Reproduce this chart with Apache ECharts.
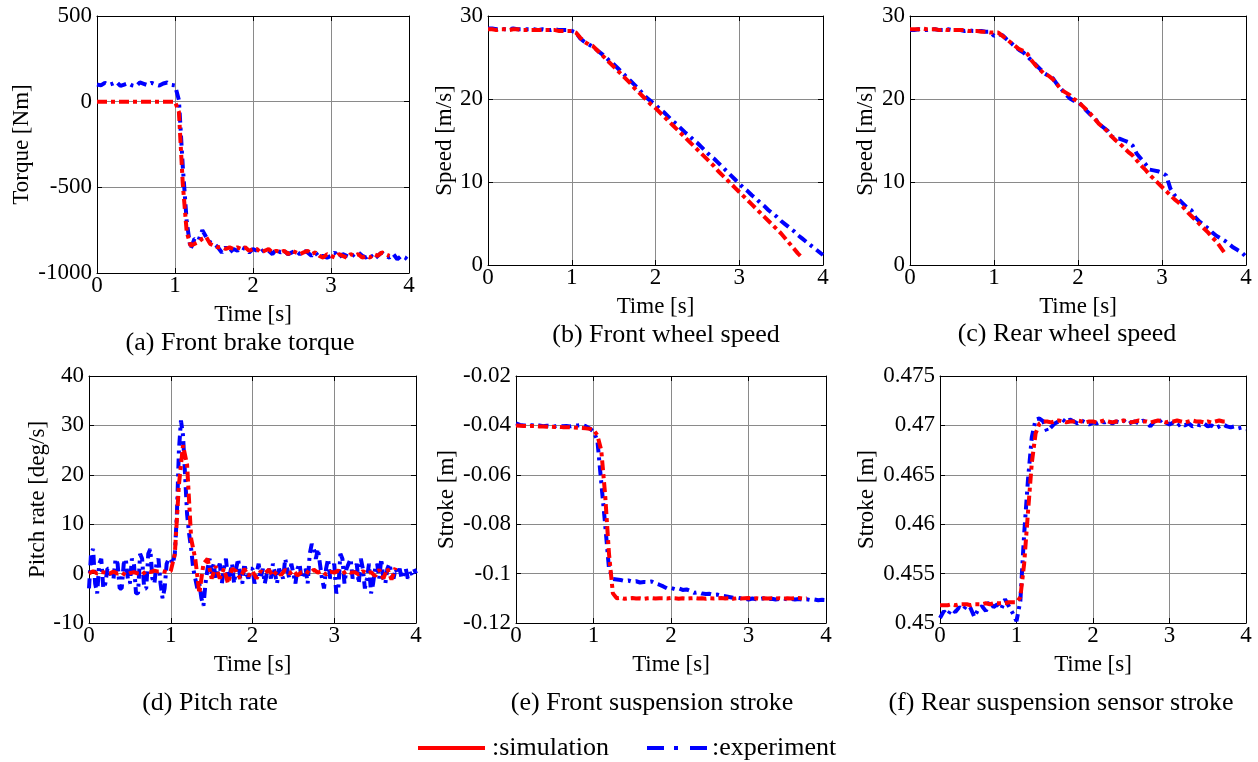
<!DOCTYPE html>
<html>
<head>
<meta charset="utf-8">
<script src="https://cdn.jsdelivr.net/npm/echarts@6/dist/echarts.min.js"></script>
<style>
html,body{margin:0;padding:0;background:#fff;}
#chart{width:1258px;height:762px;}
</style>
</head>
<body>
<div id="chart"></div>
<script>
// ---- data ----
const time = [
0,0.05,0.1,0.15,0.2,0.25,0.3,0.35,0.4,0.45,
0.5,0.55,0.6,0.65,0.7,0.75,0.8,0.85,0.9,0.95,
1,1.05,1.1,1.15,1.2,1.25,1.3,1.35,1.4,1.45,
1.5,1.55,1.6,1.65,1.7,1.75,1.8,1.85,1.9,1.95,
2,2.05,2.1,2.15,2.2,2.25,2.3,2.35,2.4,2.45,
2.5,2.55,2.6,2.65,2.7,2.75,2.8,2.85,2.9,2.95,
3,3.05,3.1,3.15,3.2,3.25,3.3,3.35,3.4,3.45,
3.5,3.55,3.6,3.65,3.7,3.75,3.8,3.85,3.9,3.95,
4];
const timeFine = [
0,0.025,0.05,0.075,0.1,0.125,0.15,0.175,0.2,0.225,0.25,0.275,0.3,0.325,0.35,0.375,0.4,0.425,0.45,0.475,
0.5,0.525,0.55,0.575,0.6,0.625,0.65,0.675,0.7,0.725,0.75,0.775,0.8,0.825,0.85,0.875,0.9,0.925,0.95,0.975,
1,1.025,1.05,1.075,1.1,1.125,1.15,1.175,1.2,1.225,1.25,1.275,1.3,1.325,1.35,1.375,1.4,1.425,1.45,1.475,
1.5,1.525,1.55,1.575,1.6,1.625,1.65,1.675,1.7,1.725,1.75,1.775,1.8,1.825,1.85,1.875,1.9,1.925,1.95,1.975,
2,2.025,2.05,2.075,2.1,2.125,2.15,2.175,2.2,2.225,2.25,2.275,2.3,2.325,2.35,2.375,2.4,2.425,2.45,2.475,
2.5,2.525,2.55,2.575,2.6,2.625,2.65,2.675,2.7,2.725,2.75,2.775,2.8,2.825,2.85,2.875,2.9,2.925,2.95,2.975,
3,3.025,3.05,3.075,3.1,3.125,3.15,3.175,3.2,3.225,3.25,3.275,3.3,3.325,3.35,3.375,3.4,3.425,3.45,3.475,
3.5,3.525,3.55,3.575,3.6,3.625,3.65,3.675,3.7,3.725,3.75,3.775,3.8,3.825,3.85,3.875,3.9,3.925,3.95,3.975,
4];

const torqueExp = [
100,95,110,98,105,115,92,100,108,95,
90,112,104,96,110,100,94,106,112,98,
95,10,-380,-700,-860,-800,-810,-750,-790,-820,
-830,-850,-880,-850,-880,-860,-870,-850,-860,-880,
-860,-870,-880,-860,-870,-890,-860,-880,-870,-890,
-880,-870,-890,-870,-880,-900,-880,-910,-900,-910,
-900,-880,-910,-890,-900,-910,-890,-880,-900,-910,
-890,-920,-900,-880,-900,-910,-890,-920,-900,-910,
-930];
const torqueSim = [
0,0,0,0,0,0,0,0,0,0,
0,0,0,0,0,0,0,0,0,0,
0,-60,-480,-760,-840,-830,-820,-800,-790,-830,
-840,-850,-850,-860,-850,-860,-850,-860,-850,-870,
-860,-860,-880,-870,-860,-880,-870,-880,-870,-890,
-870,-880,-890,-880,-870,-890,-880,-900,-910,-890,
-900,-910,-890,-900,-910,-890,-900,-890,-910,-900,
-910,-890,-900,-880,-890,-900];

const frontSpeedExp = [
28.5,28.5,28.4,28.5,28.4,28.4,28.5,28.4,28.4,28.4,
28.4,28.4,28.3,28.4,28.3,28.3,28.4,28.3,28.3,28.3,
28.2,28.0,27.3,26.9,26.6,26.3,25.9,25.5,25.1,24.6,
24.2,23.7,23.2,22.7,22.2,21.7,21.2,20.6,20.1,19.7,
19.3,18.8,18.4,17.9,17.4,17.0,16.5,16.0,15.6,15.1,
14.7,14.2,13.7,13.2,12.8,12.3,11.8,11.3,10.8,10.3,
9.8,9.3,8.9,8.4,8.0,7.5,7.1,6.6,6.2,5.8,
5.3,4.9,4.5,4.1,3.6,3.2,2.8,2.4,2.0,1.6,
1.2];
const frontSpeedSim = [
28.4,28.4,28.3,28.4,28.4,28.3,28.4,28.4,28.3,28.3,
28.3,28.3,28.3,28.3,28.3,28.3,28.3,28.2,28.2,28.2,
28.2,28.0,27.4,26.9,26.6,26.4,25.9,25.4,24.9,24.4,
23.9,23.4,22.9,22.4,21.9,21.3,20.8,20.3,19.8,19.3,
18.9,18.4,17.9,17.4,16.9,16.4,15.9,15.4,14.9,14.4,
13.9,13.4,12.9,12.4,11.9,11.3,10.8,10.3,9.8,9.3,
8.8,8.3,7.8,7.3,6.8,6.3,5.8,5.3,4.8,4.3,
3.8,3.2,2.6,2.0,1.4,0.9];

const rearSpeedExp = [
28.3,28.3,28.4,28.3,28.3,28.4,28.4,28.3,28.3,28.4,
28.3,28.3,28.3,28.2,28.3,28.2,28.2,28.2,28.1,28.1,
27.6,27.8,27.7,27.2,26.8,26.3,25.9,25.6,25.1,24.6,
24.1,23.6,23.1,22.8,22.5,21.8,21.2,20.6,20.1,19.8,
19.6,19.2,18.6,18.1,17.7,17.0,16.6,16.2,15.5,15.2,
15.2,15.0,14.8,14.4,13.4,12.8,12.2,11.5,11.4,11.3,
11.1,10.8,9.2,8.4,7.9,7.4,6.9,6.6,5.7,5.2,
4.8,4.4,3.9,3.5,3.2,2.9,2.5,2.1,1.8,1.5,
1.0];
const rearSpeedSim = [
28.4,28.4,28.4,28.5,28.4,28.4,28.4,28.3,28.4,28.3,
28.3,28.3,28.3,28.3,28.2,28.2,28.2,28.1,28.1,28.0,
28.0,28.0,27.6,27.2,26.8,26.4,26.0,25.8,25.4,24.6,
24.0,23.5,23.0,22.8,22.4,21.8,21.1,20.8,20.5,20.0,
19.7,19.2,18.7,18.2,17.6,17.0,16.6,16.1,15.5,15.0,
14.6,14.1,13.6,13.2,12.6,12.0,11.5,10.9,10.4,9.9,
9.4,8.9,8.4,7.9,7.5,7.0,6.4,5.9,5.4,4.9,
4.4,3.9,3.3,2.8,2.1,1.4];

// pitch rate experiment sampled on timeFine
const pitchExp = [
-3,4,5,-2,-4,2,3,-3,-2,1,1,-1,-1,3,2,-3,-3,2,3,-1,
-2,3,2,-4,-4,4,3,-3,-3,4,5,-1,-2,2,3,-2,-5,-3,2,3,
3,2,4,12,25,31,28,20,12,8,5,1,-1,-3,-2,-5,-6.5,-2,1,3,
0,2,-1,1,2,-2,1,3,-1,0,2,-2,1,3,-1,-2,2,0,-1,1,
1,-2,0,2,-1,1,-2,0,1,-1,2,0,-2,1,0,-1,3,1,-1,2,
0,-2,1,2,-1,0,1,-2,4,6,5,3,5,2,-1,-3,1,3,-1,0,
2,-4,-3,4,3,-2,1,2,3,-1,0,2,-2,3,1,-3,-1,2,-4,-2,
1,2,-1,3,-1,-2,1,2,0,-1,1,0,1,-1,0,1,-1,0,0,1,
0];
const pitchSim = [
0,0.5,0,0.3,0.2,0,0.4,0,0.2,-0.3,
0.1,0.3,0,-0.2,0.5,0.3,0.6,0.4,0.5,0.3,
0.5,4,18,26,22,7,3,-4,2,3,
-1,1.5,-1,1,-2,1,0.5,-1,1,-0.5,
0.5,-1,0.5,0,0.8,-0.5,0.5,-0.3,0.8,0,
0.6,-0.4,0.3,0.5,0,0.8,0.2,0.5,-0.2,0.4,
0.2,0.6,0,0.5,0.2,0.3,-0.2,0.5,0,0.3,
-0.5,0.8,-1,1,-1.2,1.2];

const frontStrokeExp = [
-0.0392,-0.0398,-0.0400,-0.0401,-0.0399,-0.0402,-0.0400,-0.0403,-0.0401,-0.0402,
-0.0404,-0.0401,-0.0403,-0.0402,-0.0404,-0.0401,-0.0400,-0.0398,-0.0403,-0.0412,
-0.0425,-0.0460,-0.0630,-0.0800,-0.0980,-0.1022,-0.1024,-0.1026,-0.1030,-0.1028,
-0.1033,-0.1031,-0.1036,-0.1034,-0.1035,-0.1032,-0.1040,-0.1045,-0.1052,-0.1060,
-0.1058,-0.1063,-0.1060,-0.1066,-0.1064,-0.1070,-0.1078,-0.1075,-0.1081,-0.1083,
-0.1082,-0.1086,-0.1085,-0.1089,-0.1092,-0.1095,-0.1098,-0.1097,-0.1100,-0.1102,
-0.1105,-0.1101,-0.1104,-0.1103,-0.1100,-0.1104,-0.1102,-0.1105,-0.1103,-0.1101,
-0.1104,-0.1102,-0.1105,-0.1103,-0.1106,-0.1104,-0.1107,-0.1105,-0.1108,-0.1106,
-0.1107];
const frontStrokeSim = [
-0.0400,-0.0401,-0.0402,-0.0403,-0.0402,-0.0403,-0.0404,-0.0404,-0.0405,-0.0405,
-0.0406,-0.0406,-0.0407,-0.0407,-0.0408,-0.0409,-0.0410,-0.0411,-0.0412,-0.0414,
-0.0418,-0.0440,-0.0500,-0.0680,-0.0920,-0.1080,-0.1100,-0.1098,-0.1102,-0.1100,
-0.1099,-0.1101,-0.1100,-0.1102,-0.1100,-0.1099,-0.1101,-0.1100,-0.1100,-0.1101,
-0.1099,-0.1100,-0.1102,-0.1100,-0.1101,-0.1100,-0.1099,-0.1101,-0.1100,-0.1102,
-0.1100,-0.1101,-0.1100,-0.1099,-0.1101,-0.1100,-0.1102,-0.1100,-0.1101,-0.1100,
-0.1099,-0.1101,-0.1100,-0.1102,-0.1100,-0.1101,-0.1100,-0.1101,-0.1100,-0.1102,
-0.1100,-0.1101,-0.1100,-0.1099,-0.1101,-0.1100];

const rearStrokeExp = [
0.4505,0.4512,0.4508,0.4514,0.4511,0.4516,0.4513,0.4518,0.4515,0.4506,
0.4514,0.4517,0.4512,0.4522,0.4516,0.4519,0.4514,0.4524,0.4517,0.4510,
0.4502,0.4522,0.4590,0.4645,0.4688,0.4706,0.4707,0.4704,0.4694,0.4698,
0.4702,0.4704,0.4706,0.4703,0.4706,0.4704,0.4702,0.4705,0.4703,0.4701,
0.4703,0.4702,0.4704,0.4703,0.4705,0.4702,0.4704,0.4703,0.4705,0.4701,
0.4703,0.4704,0.4702,0.4705,0.4703,0.4699,0.4704,0.4702,0.4706,0.4703,
0.4701,0.4703,0.4699,0.4702,0.4700,0.4702,0.4699,0.4701,0.4700,0.4702,
0.4699,0.4700,0.4697,0.4699,0.4701,0.4699,0.4698,0.4699,0.4697,0.4698,
0.4696];
const rearStrokeSim = [
0.4518,0.4518,0.4518,0.4519,0.4518,0.4519,0.4519,0.4519,0.4518,0.4519,
0.4519,0.4519,0.4520,0.4519,0.4520,0.4520,0.4520,0.4520,0.4521,0.4521,
0.4521,0.4526,0.4560,0.4612,0.4662,0.4692,0.4702,0.4704,0.4704,0.4703,
0.4704,0.4705,0.4704,0.4703,0.4704,0.4704,0.4705,0.4704,0.4703,0.4704,
0.4704,0.4703,0.4704,0.4705,0.4704,0.4703,0.4704,0.4704,0.4705,0.4704,
0.4703,0.4704,0.4705,0.4704,0.4704,0.4703,0.4704,0.4705,0.4704,0.4703,
0.4704,0.4704,0.4705,0.4704,0.4703,0.4704,0.4705,0.4704,0.4704,0.4703,
0.4704,0.4703,0.4704,0.4705,0.4704,0.4704];

const yAxisTitles = ['Torque [Nm]','Speed [m/s]','Speed [m/s]','Pitch rate [deg/s]','Stroke [m]','Stroke [m]'];
const xAxisTitle = 'Time [s]';
const captions = ['(a) Front brake torque','(b) Front wheel speed','(c) Rear wheel speed','(d) Pitch rate','(e) Front suspension stroke','(f) Rear suspension sensor stroke'];
const yRanges = [[-1000,500,500],[0,30,10],[0,30,10],[-10,40,10],[-0.12,-0.02,0.02],[0.45,0.475,0.005]];
const legendNames = ['simulation','experiment'];
const expSeries = [torqueExp, frontSpeedExp, rearSpeedExp, pitchExp, frontStrokeExp, rearStrokeExp];
const expTimes = [time, time, time, timeFine, time, time];
const simSeries = [torqueSim, frontSpeedSim, rearSpeedSim, pitchSim, frontStrokeSim, rearStrokeSim];

// ---- layout / style ----
const FONT = "'Liberation Serif','Times New Roman',serif";
const grids = [
  {left:97, top:16, width:312, height:257},
  {left:488, top:16, width:335, height:249},
  {left:910, top:16, width:336, height:249},
  {left:89, top:376, width:327, height:247},
  {left:516, top:376, width:310, height:247},
  {left:940, top:376, width:306, height:247}
];
const yNameGaps = [64, 32, 33, 39, 58, 62];
const capPos = [[240,343],[666,335],[1067,334],[210,703],[652,703],[1061,703]];

function pairs(tArr, arr){ const out=[]; for(let i=0;i<arr.length && i<tArr.length;i++) out.push([tArr[i], arr[i]]); return out; }
function fmt(v){ return String(parseFloat(Number(v).toFixed(6))); }

const tickStyle = {show:true, inside:true, length:5, lineStyle:{color:'#000', width:1}};
const lineAx = {show:true, onZero:false, lineStyle:{color:'#000', width:1}};
const gridLine = {show:true, lineStyle:{color:'#8a8a8a', width:1, type:'solid'}};

const xAxes = [], yAxes = [], series = [];
grids.forEach((g,i)=>{
  xAxes.push({gridIndex:i, type:'value', min:0, max:4, interval:1, position:'bottom',
    axisLine:lineAx, axisTick:tickStyle, splitLine:gridLine,
    axisLabel:{color:'#000', fontFamily:FONT, fontSize:23, margin:1, formatter:fmt},
    name:xAxisTitle, nameLocation:'middle', nameGap:30,
    nameTextStyle:{color:'#000', fontFamily:FONT, fontSize:23}});
  const r = yRanges[i];
  yAxes.push({gridIndex:i, type:'value', min:r[0], max:r[1], interval:r[2], position:'left',
    axisLine:lineAx, axisTick:tickStyle, splitLine:gridLine,
    axisLabel:{color:'#000', fontFamily:FONT, fontSize:23, margin:5, formatter:fmt},
    name:yAxisTitles[i], nameLocation:'middle', nameGap:yNameGaps[i], nameRotate:90,
    nameTextStyle:{color:'#000', fontFamily:FONT, fontSize:23}});
});
grids.forEach((g,i)=>{
  xAxes.push({gridIndex:i, type:'value', min:0, max:4, interval:1, position:'top',
    axisLine:lineAx, axisTick:tickStyle, splitLine:{show:false}, axisLabel:{show:false}});
  const r = yRanges[i];
  yAxes.push({gridIndex:i, type:'value', min:r[0], max:r[1], interval:r[2], position:'right',
    axisLine:lineAx, axisTick:tickStyle, splitLine:{show:false}, axisLabel:{show:false}});
});
grids.forEach((g,i)=>{
  series.push({name:legendNames[1], type:'line', xAxisIndex:i, yAxisIndex:i, data:pairs(expTimes[i], expSeries[i]),
    showSymbol:false, symbol:'none', animation:false, z:3,
    lineStyle:{color:'#0000ff', width:4, type:[10,5,3,5]}});
  series.push({name:legendNames[0], type:'line', xAxisIndex:i, yAxisIndex:i, data:pairs(time, simSeries[i]),
    showSymbol:false, symbol:'none', animation:false, z:4,
    lineStyle:{color:'#ff0000', width:4, type:[10,4,4,4]}});
});

const graphics = captions.map((c,i)=>({type:'text', x:capPos[i][0], y:capPos[i][1],
  style:{text:c, font:'26px '+FONT, fill:'#000', align:'center', verticalAlign:'middle', textAlign:'center', textVerticalAlign:'middle'}}));
graphics.push({type:'line', shape:{x1:418,y1:748,x2:485,y2:748}, style:{stroke:'#ff0000', lineWidth:4}});
graphics.push({type:'text', x:492, y:748, style:{text:':'+legendNames[0], font:'26px '+FONT, fill:'#000', align:'left', verticalAlign:'middle', textAlign:'left', textVerticalAlign:'middle'}});
graphics.push({type:'line', shape:{x1:647,y1:748,x2:707,y2:748}, style:{stroke:'#0000ff', lineWidth:4, lineDash:[17,10,4,12]}});
graphics.push({type:'text', x:712, y:748, style:{text:':'+legendNames[1], font:'26px '+FONT, fill:'#000', align:'left', verticalAlign:'middle', textAlign:'left', textVerticalAlign:'middle'}});

const chart = echarts.init(document.getElementById('chart'), null, {renderer:'canvas'});
chart.setOption({
  animation:false,
  backgroundColor:'#fff',
  grid: grids.map(g=>Object.assign({show:false, containLabel:false}, g)),
  xAxis:xAxes, yAxis:yAxes, series:series, graphic:graphics
});
</script>
</body>
</html>
